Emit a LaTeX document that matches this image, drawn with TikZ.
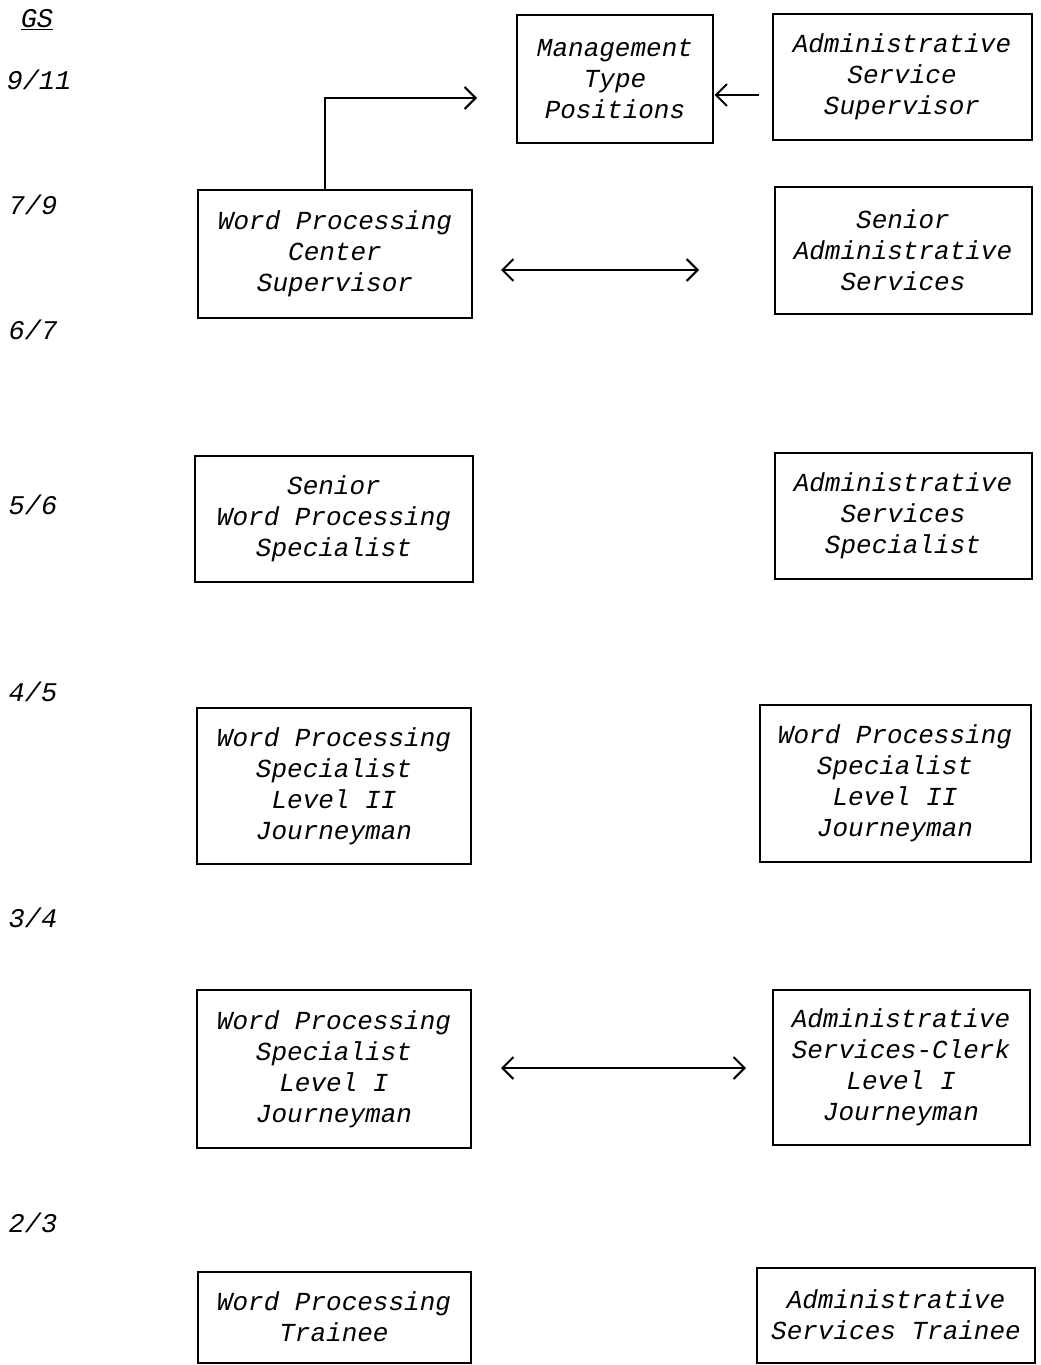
\documentclass[tikz,border=0pt]{standalone}
\usepackage{fontspec}
\setmainfont{Liberation Mono}
\usepackage{tikz}
\usetikzlibrary{arrows.meta}

\begin{document}
\begin{tikzpicture}[x=1pt,y=-1pt,
  post/.style={draw,line width=2pt,align=center,inner sep=0pt,
    font=\fontsize{26}{31}\selectfont\itshape},
  grade/.style={font=\fontsize{27}{30}\selectfont\itshape},
  link/.style={line width=2pt,-{Straight Barb[length=11pt,width=22pt,line width=2pt]}},
  dbl/.style={line width=2pt,{Straight Barb[length=11pt,width=22pt,line width=2pt]}-{Straight Barb[length=11pt,width=22pt,line width=2pt]}}]
\useasboundingbox (0,0) rectangle (1041,1365);

% Grade scale
\node[grade] (gs) at (37,20) {\underline{GS}};
\node[grade] (g911) at (39,80) {9/11};
\node[grade] (g79) at (33,205) {7/9};
\node[grade] (g67) at (33,330) {6/7};
\node[grade] (g56) at (33,505) {5/6};
\node[grade] (g45) at (33,692) {4/5};
\node[grade] (g34) at (33,918) {3/4};
\node[grade] (g23) at (33,1223) {2/3};

% Top row
\node[post,minimum width=196pt,minimum height=128pt] (mgmt) at (615,79) {Management\\Type\\Positions};
\node[post,minimum width=259pt,minimum height=126pt] (assup) at (902,77) {Administrative\\Service\\Supervisor};

% Word processing ladder
\node[post,minimum width=274pt,minimum height=128pt] (wpcs) at (335,254) {Word Processing\\Center\\Supervisor};
\node[post,minimum width=278pt,minimum height=126pt] (swps) at (334,519) {Senior\\Word Processing\\Specialist};
\node[post,minimum width=274pt,minimum height=156pt] (wps2l) at (334,786) {Word Processing\\Specialist\\Level II\\Journeyman};
\node[post,minimum width=274pt,minimum height=158pt] (wps1) at (334,1069) {Word Processing\\Specialist\\Level I\\Journeyman};
\node[post,minimum width=273pt,minimum height=91pt] (wpt) at (334,1317) {Word Processing\\Trainee};

% Administrative services ladder
\node[post,minimum width=257pt,minimum height=127pt] (sas) at (903,250) {Senior\\Administrative\\Services};
\node[post,minimum width=257pt,minimum height=126pt] (ass) at (903,516) {Administrative\\Services\\Specialist};
\node[post,minimum width=271pt,minimum height=157pt] (wps2r) at (895,783) {Word Processing\\Specialist\\Level II\\Journeyman};
\node[post,minimum width=257pt,minimum height=155pt] (asc) at (901,1067) {Administrative\\Services-Clerk\\Level I\\Journeyman};
\node[post,minimum width=278pt,minimum height=95pt] (ast) at (896,1315) {Administrative\\Services Trainee};

% Connectors
\coordinate (mgmtin) at (477,98);
\draw[link] ([xshift=-10pt]wpcs.north) |- (mgmtin);
\draw[link] ([shift={(-13,18)}]assup.west) -- ++(-44,0);
\draw[dbl] ([shift={(28,16)}]wpcs.east) -- ++(198,0);
\draw[dbl] ([shift={(29,-1)}]wps1.east) -- ++(245,0);

\end{tikzpicture}
\end{document}
